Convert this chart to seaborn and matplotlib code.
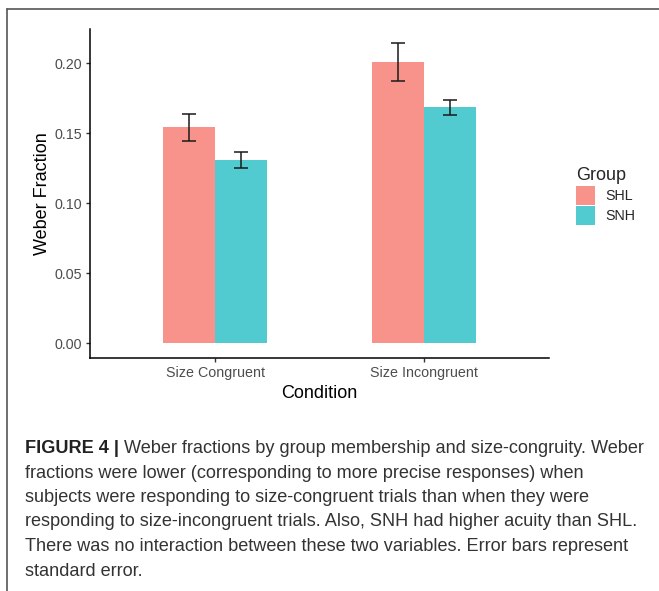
import pandas as pd
import matplotlib
matplotlib.use("Agg")
import matplotlib.pyplot as plt
from matplotlib.lines import Line2D
from matplotlib.patches import Patch
import seaborn as sns

# values
conditions = ["Size Congruent", "Size Incongruent"]
groups = ["SHL", "SNH"]
shl_mean = [0.154, 0.2007]
snh_mean = [0.1305, 0.1683]
shl_se = [0.0098, 0.0133]
snh_se = [0.0058, 0.0054]
yticks = [0.00, 0.05, 0.10, 0.15, 0.20]

caption_bold = "FIGURE 4 |"
caption_lines = [
    " Weber fractions by group membership and size-congruity. Weber",
    "fractions were lower (corresponding to more precise responses) when",
    "subjects were responding to size-congruent trials than when they were",
    "responding to size-incongruent trials. Also, SNH had higher acuity than SHL.",
    "There was no interaction between these two variables. Error bars represent",
    "standard error.",
]

df = pd.DataFrame({
    "Condition": conditions * 2,
    "Group": [groups[0]] * 2 + [groups[1]] * 2,
    "Weber": shl_mean + snh_mean,
    "se": shl_se + snh_se,
})

colors = {"SHL": "#F8938C", "SNH": "#52CBD0"}

sns.set_style("white")
plt.rcParams["font.family"] = ["Liberation Sans", "DejaVu Sans"]

W, H = 659, 591
fig = plt.figure(figsize=(W / 100, H / 100), dpi=100)
ax = fig.add_axes([90 / W, 1 - 358 / H, (549 - 90) / W, (358 - 29) / H])

sns.barplot(data=df, x="Condition", y="Weber", hue="Group", order=conditions,
            hue_order=groups, palette=colors, width=0.5, gap=0, errorbar=None,
            saturation=1, legend=False, linewidth=0, ax=ax)

# error bars at the bar centres
for cont, g in zip(ax.containers, groups):
    sub = df[df["Group"] == g].set_index("Condition").loc[conditions]
    xs = [b.get_x() + b.get_width() / 2 for b in cont]
    ax.errorbar(xs, sub["Weber"], yerr=sub["se"], fmt="none", ecolor="#1a1a1a",
                elinewidth=1.1, capsize=4.7, capthick=1.1, zorder=3)

ax.set_xlim(-0.6, 1.6)
ax.set_ylim(-0.0107, 0.2243)
ax.set_yticks(yticks)
ax.set_yticklabels([f"{t:.2f}" for t in yticks])
sns.despine(ax=ax)
for s in ["left", "bottom"]:
    ax.spines[s].set_color("black")
    ax.spines[s].set_linewidth(1.1)
ax.tick_params(axis="both", which="major", length=3, width=1, color="#333333",
               labelsize=10.3, labelcolor="#4d4d4d", pad=3, left=True, bottom=True)
ax.set_xlabel("Condition", fontsize=13, color="black", labelpad=3)
ax.set_ylabel("Weber Fraction", fontsize=13, color="black", labelpad=2)

handles = [Patch(facecolor=colors[g], edgecolor="none") for g in groups]
leg = fig.legend(handles, groups, title="Group", loc="center left",
                 bbox_to_anchor=(569 / W, 1 - 196 / H), frameon=False,
                 fontsize=10.3, title_fontsize=13, handlelength=1.35,
                 handleheight=1.6, handletextpad=0.7, labelspacing=0.12,
                 borderpad=0, alignment="left")

# frame lines (top and left)
fig.add_artist(Line2D([7 / W, 1], [1 - 9 / H, 1 - 9 / H], color="#555555", lw=1.2))
fig.add_artist(Line2D([7 / W, 7 / W], [0, 1 - 9 / H], color="#555555", lw=1.2))

# caption
cap_font = ["Liberation Sans", "DejaVu Sans"]
cap_size = 13.1
x0 = 25 / W
base = [453, 477.5, 502, 526.5, 551, 575.5]
t0 = fig.text(x0, 1 - base[0] / H, caption_bold, fontsize=cap_size, fontweight="bold",
              family=cap_font, color="#222222", va="baseline")
fig.canvas.draw()
bb = t0.get_window_extent().transformed(fig.transFigure.inverted())
fig.text(bb.x1, 1 - base[0] / H, caption_lines[0], fontsize=cap_size, family=cap_font,
         color="#333333", va="baseline")
for line, y in zip(caption_lines[1:], base[1:]):
    fig.text(x0, 1 - y / H, line, fontsize=cap_size, family=cap_font,
             color="#333333", va="baseline")

fig.savefig("out.png", dpi=100, facecolor="white")
